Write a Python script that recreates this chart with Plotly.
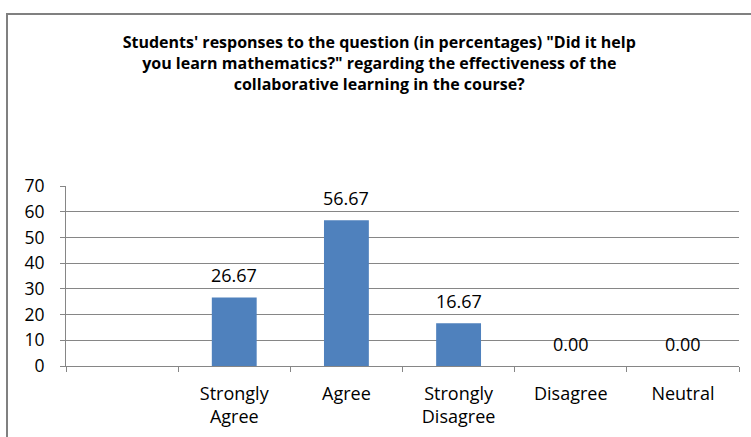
import plotly.graph_objects as go

categories = [" ", "Strongly<br>Agree", "Agree", "Strongly<br>Disagree", "Disagree", "Neutral"]
values = [None, 26.67, 56.67, 16.67, 0.00, 0.00]
y_ticks = [0, 10, 20, 30, 40, 50, 60, 70]

title = ("Students' responses to the question (in percentages) \"Did it help<br>"
         "you learn mathematics?\" regarding the effectiveness of the<br>"
         "collaborative learning in the course?")

FONT = "Open Sans"
W, H = 751, 437
ml, mr, mt, mb = 66, 12, 186, 71
pw, ph = W - ml - mr, H - mt - mb

fig = go.Figure(go.Bar(
    x=categories,
    y=values,
    width=0.4,
    marker=dict(color="#4F81BD", line=dict(width=0)),
    hoverinfo="x+y",
))

# data labels, placed above each bar like the Excel chart
for c, v in zip(categories, values):
    if v is None:
        continue
    fig.add_annotation(x=c, y=v, text=f"{v:.2f}", showarrow=False,
                       yshift=22, font=dict(family=FONT, size=18, color="#000"))

# outer chart border
fig.add_shape(type="rect", xref="paper", yref="paper",
              x0=(7 - ml) / pw, x1=(W + 10 - ml) / pw,
              y0=-(mb + 10) / ph, y1=(H - mb - 14) / ph,
              line=dict(color="#808080", width=2), layer="below")

fig.update_layout(
    width=W, height=H,
    margin=dict(l=ml, r=mr, t=mt, b=mb, autoexpand=False),
    paper_bgcolor="white", plot_bgcolor="white",
    showlegend=False,
    font=dict(family=FONT, size=18, color="#000"),
    title=dict(text=title, x=0.505, xanchor="center", y=1 - 48 / H, yanchor="top",
               font=dict(family=FONT, size=16, color="#000", weight="bold")),
    xaxis=dict(type="category", tickson="boundaries", ticks="outside", ticklen=5,
               tickcolor="#868686", showline=True, linecolor="#868686", linewidth=1,
               showgrid=False, automargin=False, ticklabelstandoff=11,
               tickfont=dict(family=FONT, size=18)),
    yaxis=dict(range=[0, 70], tickvals=y_ticks, ticks="outside", ticklen=5,
               tickcolor="#868686", showline=True, linecolor="#868686", linewidth=1,
               showgrid=True, gridcolor="#868686", gridwidth=1, automargin=False,
               ticklabelstandoff=12, tickfont=dict(family=FONT, size=17.5), zeroline=False),
)

# drop the default page margin so the figure sits at the window's corner
fig.write_html("out.html", config={"displayModeBar": False},
               post_script="document.body.style.margin='0';")
